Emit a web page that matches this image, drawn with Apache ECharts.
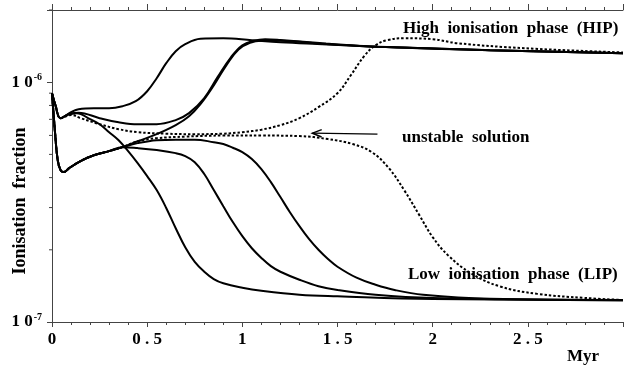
<!DOCTYPE html>
<html>
<head>
<meta charset="utf-8">
<script src="https://cdn.jsdelivr.net/npm/echarts@6/dist/echarts.min.js"></script>
<style>
  html, body { margin: 0; padding: 0; background: #fff; }
  #chart { width: 626px; height: 368px; }
</style>
</head>
<body>
<div id="chart"></div>
<script>
// Time axis (Myr) tick labels, one per 0.5 step
const xTickLabels = ['0', '0 . 5', '1', '1 . 5', '2', '2 . 5', ''];
// Minor decade ticks on the ionisation-fraction axis
const yMinorTicks = [2e-7, 3e-7, 4e-7, 5e-7, 6e-7, 7e-7, 8e-7, 9e-7, 2e-6];

// Shared early evolution: runs starting on the upper branch
const upperStart = [[0, 9.0e-7], [0.018, 8.02e-7], [0.045, 7.08e-7]];
// Shared early evolution: runs dropping to the lower branch
const lowerStart = [[0, 9.0e-7], [0.015, 6.3e-7], [0.03, 4.73e-7], [0.045, 4.3e-7], [0.062, 4.22e-7],
  [0.09, 4.38e-7], [0.15, 4.69e-7], [0.22, 4.96e-7], [0.3, 5.16e-7], [0.37, 5.36e-7]];

// Runs ending in the high ionisation phase
const hipEarly = [[0.1, 7.5e-7], [0.14, 7.72e-7], [0.22, 7.79e-7], [0.3, 7.79e-7], [0.37, 7.94e-7],
  [0.44, 8.33e-7], [0.5, 9.17e-7], [0.55, 1.039e-6], [0.6, 1.20e-6], [0.65, 1.346e-6], [0.7, 1.44e-6],
  [0.78, 1.518e-6], [0.9, 1.525e-6], [1.05, 1.496e-6], [1.2, 1.468e-6], [1.44, 1.44e-6],
  [1.71, 1.406e-6], [2.3, 1.36e-6], [3.0, 1.32e-6]];
const hipMid = [[0.1, 7.43e-7], [0.14, 7.46e-7], [0.25, 7.08e-7], [0.35, 6.81e-7], [0.45, 6.68e-7],
  [0.55, 6.68e-7], [0.65, 6.95e-7], [0.72, 7.43e-7], [0.8, 8.58e-7], [0.87, 1.05e-6], [0.94, 1.27e-6],
  [1.0, 1.426e-6], [1.06, 1.489e-6], [1.12, 1.511e-6], [1.2, 1.50e-6], [1.44, 1.45e-6],
  [1.71, 1.406e-6], [2.3, 1.36e-6], [3.0, 1.32e-6]];
const hipLate = [[0.45, 5.67e-7], [0.55, 6.07e-7], [0.65, 6.62e-7], [0.72, 7.21e-7], [0.78, 8.1e-7],
  [0.85, 9.7e-7], [0.92, 1.19e-6], [0.98, 1.37e-6], [1.04, 1.46e-6], [1.1, 1.49e-6],
  [1.2, 1.49e-6], [1.44, 1.44e-6], [1.71, 1.406e-6], [2.3, 1.36e-6], [3.0, 1.32e-6]];

// Runs ending in the low ionisation phase
const lipEarly = [[0.08, 7.3e-7], [0.13, 7.43e-7], [0.2, 7.01e-7], [0.25, 6.68e-7], [0.3, 6.19e-7],
  [0.35, 5.73e-7], [0.4, 5.16e-7], [0.45, 4.60e-7], [0.5, 4.06e-7], [0.55, 3.55e-7], [0.6, 2.99e-7],
  [0.65, 2.46e-7], [0.7, 2.05e-7], [0.75, 1.78e-7], [0.8, 1.62e-7], [0.85, 1.51e-7], [0.9, 1.45e-7],
  [1.0, 1.39e-7], [1.1, 1.35e-7], [1.3, 1.30e-7], [1.5, 1.28e-7], [2.0, 1.247e-7], [3.0, 1.235e-7]];
const lipMid = [[0.45, 5.31e-7], [0.55, 5.21e-7], [0.65, 5.06e-7], [0.7, 4.92e-7], [0.75, 4.64e-7],
  [0.8, 4.14e-7], [0.85, 3.55e-7], [0.9, 3.04e-7], [0.95, 2.61e-7], [1.0, 2.28e-7], [1.05, 2.03e-7],
  [1.1, 1.85e-7], [1.15, 1.71e-7], [1.2, 1.62e-7], [1.3, 1.50e-7], [1.4, 1.41e-7], [1.5, 1.36e-7],
  [1.7, 1.30e-7], [2.0, 1.26e-7], [3.0, 1.23e-7]];
const lipLate = [[0.45, 5.57e-7], [0.55, 5.73e-7], [0.65, 5.76e-7], [0.75, 5.76e-7], [0.85, 5.62e-7],
  [0.9, 5.52e-7], [0.95, 5.33e-7], [1.0, 5.11e-7], [1.05, 4.78e-7], [1.1, 4.34e-7], [1.15, 3.83e-7],
  [1.2, 3.32e-7], [1.25, 2.87e-7], [1.3, 2.51e-7], [1.35, 2.22e-7], [1.4, 2.00e-7], [1.45, 1.83e-7],
  [1.5, 1.70e-7], [1.6, 1.53e-7], [1.7, 1.43e-7], [1.8, 1.36e-7], [1.95, 1.30e-7], [2.3, 1.25e-7],
  [3.0, 1.235e-7]];

// Unstable solution, bracketed from above and below
const unstableUp = [[0.1, 7.3e-7], [0.15, 7.08e-7], [0.25, 6.68e-7], [0.35, 6.37e-7], [0.45, 6.19e-7],
  [0.6, 6.10e-7], [0.75, 6.07e-7], [0.9, 6.10e-7], [1.0, 6.19e-7], [1.1, 6.34e-7], [1.2, 6.62e-7],
  [1.3, 7.08e-7], [1.4, 7.87e-7], [1.5, 9.0e-7], [1.57, 1.069e-6], [1.64, 1.284e-6], [1.7, 1.426e-6],
  [1.76, 1.496e-6], [1.85, 1.525e-6], [2.0, 1.511e-6], [2.13, 1.454e-6], [2.48, 1.386e-6], [3.0, 1.33e-6]];
const unstableDown = [[0.45, 5.67e-7], [0.55, 5.84e-7], [0.7, 5.93e-7], [0.9, 5.99e-7], [1.1, 5.99e-7],
  [1.3, 5.96e-7], [1.45, 5.79e-7], [1.58, 5.52e-7], [1.68, 5.11e-7], [1.77, 4.38e-7], [1.85, 3.55e-7],
  [1.93, 2.79e-7], [2.0, 2.26e-7], [2.08, 1.90e-7], [2.2, 1.60e-7], [2.35, 1.41e-7], [2.55, 1.31e-7],
  [2.8, 1.26e-7], [3.0, 1.235e-7]];

// Arrow pointing at the unstable solution, in data coordinates
const arrowTail = [1.71, 6.07e-7];
const arrowHead = [1.368, 6.13e-7];

const SERIF = '"Liberation Serif", "DejaVu Serif", serif';
const AXIS_COLOR = '#444';

function curve(name, data, dotted) {
  return {
    name: name,
    type: 'line',
    data: data,
    showSymbol: false,
    symbol: 'none',
    smooth: 0.4,
    clip: true,
    silent: true,
    z: dotted ? 3 : 4,
    lineStyle: dotted
      ? { color: '#000', width: 2, type: [2.5, 2] }
      : { color: '#000', width: 2 }
  };
}

const chart = echarts.init(document.getElementById('chart'), null, { renderer: 'canvas' });

const option = {
  animation: false,
  backgroundColor: '#fff',
  grid: { left: 52, top: 10, width: 579, height: 312, containLabel: false },
  xAxis: [
    {
      type: 'value', min: 0, max: 3, interval: 0.5, position: 'bottom',
      axisLine: { show: true, lineStyle: { color: AXIS_COLOR, width: 1 } },
      axisTick: { show: true, inside: false, length: 5, lineStyle: { color: AXIS_COLOR } },
      minorTick: { show: true, splitNumber: 5, length: 3, lineStyle: { color: AXIS_COLOR } },
      splitLine: { show: false },
      axisLabel: {
        margin: 9, color: '#000', fontFamily: SERIF, fontWeight: 'bold', fontSize: 17,
        formatter: v => xTickLabels[Math.round(v / 0.5)] || ''
      }
    },
    {
      type: 'value', min: 0, max: 3, interval: 0.5, position: 'top',
      axisLine: { show: true, lineStyle: { color: AXIS_COLOR, width: 1 } },
      axisTick: { show: true, inside: false, length: 6, lineStyle: { color: AXIS_COLOR } },
      minorTick: { show: true, splitNumber: 5, length: 3, lineStyle: { color: AXIS_COLOR } },
      splitLine: { show: false },
      axisLabel: { show: false }
    }
  ],
  yAxis: {
    type: 'log', logBase: 10, min: 1e-7, max: 2e-6,
    axisLine: { show: true, lineStyle: { color: AXIS_COLOR, width: 1 } },
    axisTick: { show: true, inside: false, length: 5, lineStyle: { color: AXIS_COLOR } },
    splitLine: { show: false },
    axisLabel: {
      margin: 10, color: '#000', fontFamily: SERIF, fontWeight: 'bold', fontSize: 17,
      formatter: v => {
        const e = Math.log10(v);
        const r = Math.round(e);
        if (Math.abs(e - r) > 1e-6) return '';
        return '{b|1 0}{s|-' + Math.abs(r) + '}';
      },
      rich: {
        b: { fontFamily: SERIF, fontWeight: 'bold', fontSize: 17, color: '#000' },
        s: { fontFamily: SERIF, fontWeight: 'bold', fontSize: 10, color: '#000', padding: [0, 0, 9, 1] }
      }
    }
  },
  series: [
    curve('hipEarly', upperStart.concat(hipEarly), false),
    curve('hipMid', upperStart.concat(hipMid), false),
    curve('hipLate', lowerStart.concat(hipLate), false),
    curve('lipEarly', upperStart.concat(lipEarly), false),
    curve('lipMid', lowerStart.concat(lipMid), false),
    curve('lipLate', lowerStart.concat(lipLate), false),
    curve('unstableUp', upperStart.concat(unstableUp), true),
    curve('unstableDown', lowerStart.concat(unstableDown), true),
    {
      // minor ticks of the logarithmic axis at 2..9 per decade
      type: 'custom',
      silent: true,
      clip: false,
      data: yMinorTicks.map(v => [0, v]),
      renderItem: (params, api) => {
        const p = api.coord([api.value(0), api.value(1)]);
        return {
          type: 'line',
          shape: { x1: p[0] - 3, y1: p[1], x2: p[0], y2: p[1] },
          style: { stroke: AXIS_COLOR, lineWidth: 1 }
        };
      }
    }
  ]
};

chart.setOption(option);

// Annotations
const tail = chart.convertToPixel({ gridIndex: 0 }, arrowTail);
const head = chart.convertToPixel({ gridIndex: 0 }, arrowHead);
const ang = Math.atan2(tail[1] - head[1], tail[0] - head[0]);
const barb = 10, spread = 0.38;
const b1 = [head[0] + barb * Math.cos(ang + spread), head[1] + barb * Math.sin(ang + spread)];
const b2 = [head[0] + barb * Math.cos(ang - spread), head[1] + barb * Math.sin(ang - spread)];

function label(text, x, y, size) {
  return {
    type: 'text', x: x, y: y, z: 10, silent: true,
    style: {
      text: text, font: 'bold ' + size + 'px ' + SERIF, fill: '#000',
      textAlign: 'left', textVerticalAlign: 'middle'
    }
  };
}

chart.setOption({
  graphic: [
    label('High  ionisation  phase  (HIP)', 403, 29, 17),
    label('unstable  solution', 402, 138, 17),
    label('Low  ionisation  phase  (LIP)', 408, 275, 17),
    label('Myr', 567, 357, 17),
    {
      type: 'text', x: 20, y: 201, rotation: Math.PI / 2, z: 10, silent: true,
      style: {
        text: 'Ionisation  fraction', font: 'bold 18px ' + SERIF, fill: '#000',
        textAlign: 'center', textVerticalAlign: 'middle'
      }
    },
    {
      type: 'line', z: 10, silent: true,
      shape: { x1: tail[0], y1: tail[1], x2: head[0], y2: head[1] },
      style: { stroke: '#000', lineWidth: 1.2 }
    },
    {
      type: 'polyline', z: 10, silent: true,
      shape: { points: [b1, head, b2] },
      style: { stroke: '#000', lineWidth: 1.5, fill: null }
    }
  ]
});
</script>
</body>
</html>
